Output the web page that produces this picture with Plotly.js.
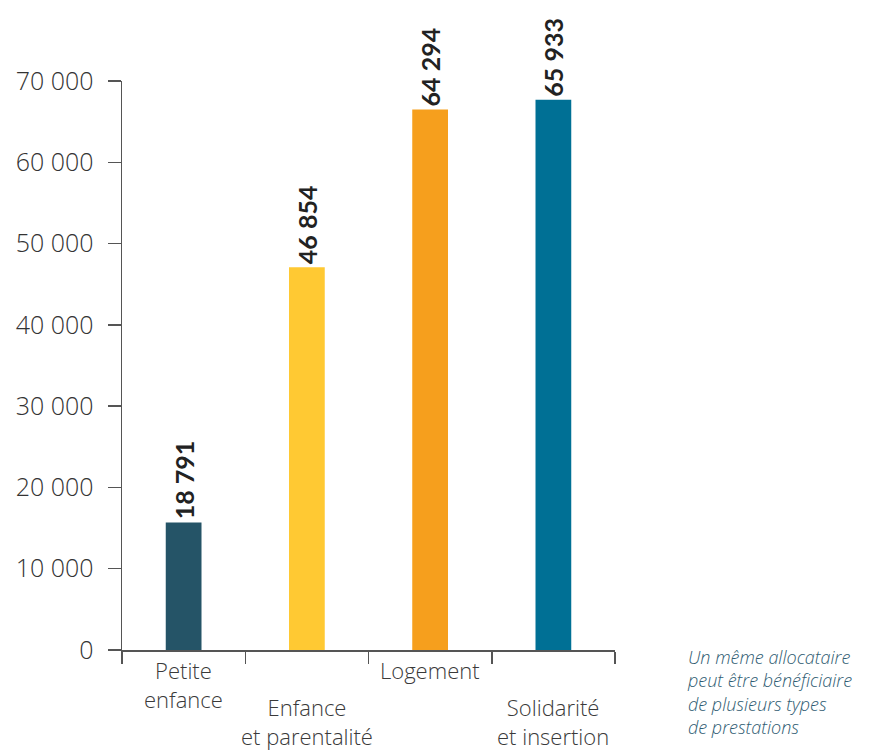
<!DOCTYPE html>
<html>
<head>
<meta charset="utf-8">
<script src="https://cdn.plot.ly/plotly-3.0.1.min.js"></script>
<style>html,body{margin:0;padding:0;background:#fff;}#chart{width:883px;height:754px;}</style>
</head>
<body>
<div id="chart"></div>
<script>
// Data
const categories = ['Petite enfance', 'Enfance et parentalité', 'Logement', 'Solidarité et insertion'];
const labelLines = [['Petite', 'enfance'], ['Enfance', 'et parentalité'], ['Logement'], ['Solidarité', 'et insertion']];
const barValues = [15700, 47100, 66500, 67700];
const valueLabels = ['18 791', '46 854', '64 294', '65 933'];
const barColors = ['#255467', '#FFC933', '#F69F1D', '#007095'];
const yTicks = [0, 10000, 20000, 30000, 40000, 50000, 60000, 70000];
const noteLines = ['Un même allocataire', 'peut être bénéficiaire', 'de plusieurs types', 'de prestations'];

// Label layout: staggered rows
const labelRow = [0, 1, 0, 1];
const rowShift = [-3, -40];

const annotations = [];
categories.forEach((c, i) => {
  annotations.push({
    x: c, xref: 'x', y: 0, yref: 'paper',
    text: labelLines[i].join('<br>'), showarrow: false,
    xanchor: 'center', yanchor: 'top', align: 'center',
    yshift: rowShift[labelRow[i]],
    font: {family: 'Open Sans, sans-serif', size: 22, weight: 300, color: '#3a3a3a'}
  });
});
annotations.push({
  x: 1.143, xref: 'paper', y: 0.012, yref: 'paper',
  xanchor: 'left', yanchor: 'top', align: 'left', showarrow: false,
  text: noteLines.join('<br>'),
  font: {family: 'Open Sans, sans-serif', size: 18, weight: 300, color: '#2f5c72', style: 'italic'}
});

const trace = {
  type: 'bar',
  x: categories,
  y: barValues,
  marker: {color: barColors},
  text: valueLabels,
  texttemplate: '%{text}',
  textposition: 'outside',
  textangle: -90,
  constraintext: 'none',
  cliponaxis: false,
  outsidetextfont: {family: 'Lato, sans-serif', size: 25, weight: 'bold', color: '#222'},
  hoverinfo: 'skip'
};

const layout = {
  width: 883, height: 754,
  margin: {l: 122, r: 268, t: 81, b: 104, pad: 0},
  paper_bgcolor: '#fff', plot_bgcolor: '#fff',
  separators: ', ',
  showlegend: false,
  bargap: 0.71,
  xaxis: {
    type: 'category',
    range: [-0.5, 3.5],
    showline: true, linecolor: '#555', linewidth: 1.5,
    ticks: 'outside', tickson: 'boundaries', ticklen: 12, tickwidth: 1.5, tickcolor: '#555',
    showticklabels: false, showgrid: false, zeroline: false, fixedrange: true
  },
  yaxis: {
    range: [0, 70000],
    tickvals: yTicks, tickformat: ',d',
    showline: true, linecolor: '#555', linewidth: 1.5,
    ticks: 'outside', ticklen: 13, tickwidth: 1.5, tickcolor: '#555',
    ticklabelstandoff: 9,
    tickfont: {family: 'Open Sans, sans-serif', size: 25, weight: 300, color: '#333'},
    showgrid: false, zeroline: false, fixedrange: true
  },
  annotations: annotations
};

Plotly.newPlot('chart', [trace], layout, {displayModeBar: false, staticPlot: true});
</script>
</body>
</html>
